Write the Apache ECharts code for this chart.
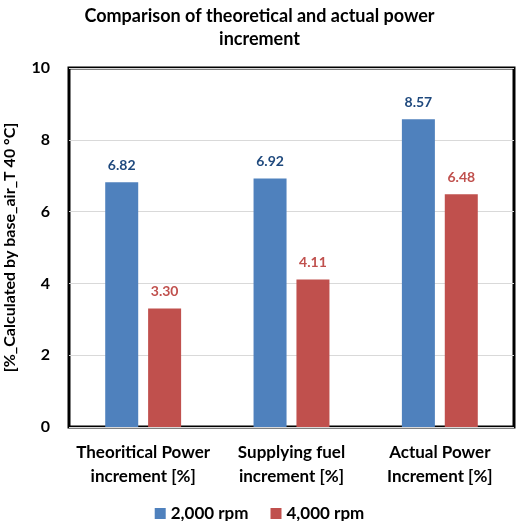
<!DOCTYPE html>
<html><head><meta charset="utf-8">
<script src="https://cdn.jsdelivr.net/npm/echarts@6/dist/echarts.min.js"></script>
<style>html,body{margin:0;padding:0;background:#fff}#c{width:519px;height:521px}</style>
</head><body><div id="c"></div>
<script>
const categories = ['Theoritical Power\nincrement [%]', 'Supplying fuel\nincrement [%]', 'Actual Power\nIncrement [%]'];
const rpm2000 = [6.82, 6.92, 8.57];
const rpm4000 = [3.30, 4.11, 6.48];
const seriesNames = ['2,000 rpm', '4,000 rpm'];
const yTicks = {min: 0, max: 10, interval: 2};
const F = 'Lato, "Open Sans", sans-serif';
const chart = echarts.init(document.getElementById('c'));
chart.setOption({
  animation: false,
  title: {
    text: 'Comparison of theoretical and actual power\nincrement',
    left: 'center', top: 0,
    textStyle: {fontFamily: F, fontWeight: 'bold', fontSize: 18, color: '#000', lineHeight: 23}
  },
  legend: {
    top: 500, left: 'center',
    itemWidth: 11, itemHeight: 11, itemGap: 22,
    icon: 'rect',
    textStyle: {fontFamily: F, fontWeight: 'bold', fontSize: 17, color: '#000'},
    data: seriesNames
  },
  grid: {left: 69, right: 5, top: 68, bottom: 94, show: true, borderColor: '#000', borderWidth: 3, outerBoundsMode: 'none'},
  xAxis: {
    type: 'category', data: categories,
    axisLine: {show: false}, axisTick: {show: false},
    axisLabel: {fontFamily: F, fontWeight: 'bold', fontSize: 17, color: '#000', lineHeight: 24, margin: 14, interval: 0}
  },
  yAxis: {
    type: 'value', min: yTicks.min, max: yTicks.max, interval: yTicks.interval,
    name: '[%_Calculated by base_air_T 40 \u00B0C]',
    nameLocation: 'middle', nameGap: 51, nameRotate: 90,
    nameTextStyle: {fontFamily: F, fontWeight: 'bold', fontSize: 16, color: '#000'},
    axisLine: {show: false}, axisTick: {show: false},
    axisLabel: {fontFamily: F, fontWeight: 'bold', fontSize: 16, color: '#000', margin: 19},
    splitLine: {lineStyle: {color: '#d9d9d9', width: 1}}
  },
  series: [
    {name: seriesNames[0], type: 'bar', data: rpm2000, barWidth: 33, barGap: '30%',
     itemStyle: {color: '#4F81BD'},
     label: {show: true, position: 'top', distance: 10, formatter: p => p.value.toFixed(2),
       fontFamily: F, fontWeight: 'bold', fontSize: 14, color: '#1F497D'}},
    {name: seriesNames[1], type: 'bar', data: rpm4000, barWidth: 33,
     itemStyle: {color: '#C0504D'},
     label: {show: true, position: 'top', distance: 10, formatter: p => p.value.toFixed(2),
       fontFamily: F, fontWeight: 'bold', fontSize: 14, color: '#C0504D'}}
  ]
});
</script></body></html>
